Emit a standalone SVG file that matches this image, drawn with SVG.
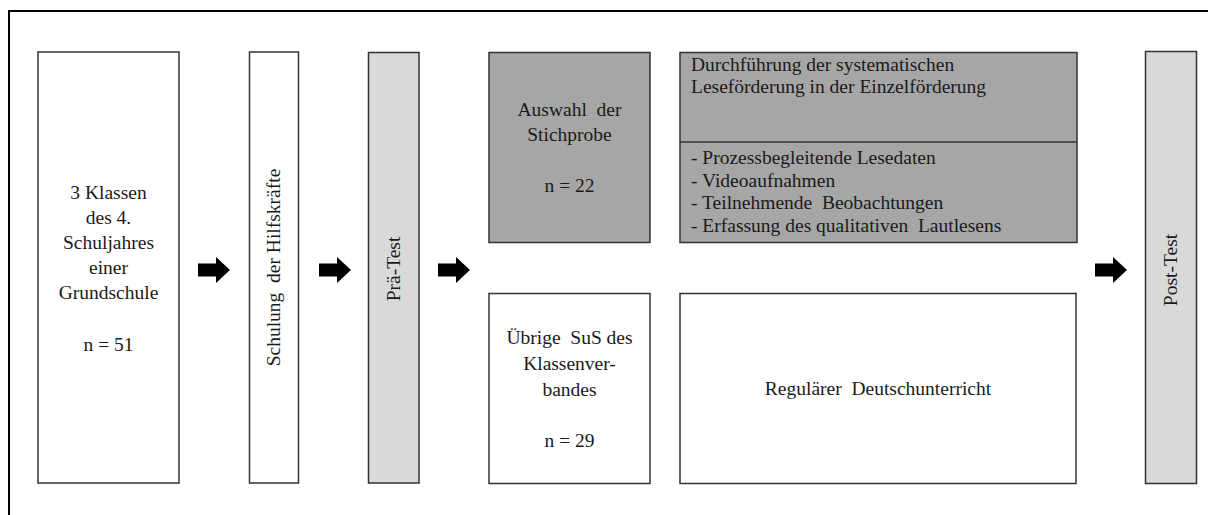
<svg xmlns="http://www.w3.org/2000/svg" width="1208" height="515" viewBox="0 0 1208 515">
  <style>
    .box { stroke: #333; stroke-width: 1.5; }
    .white { fill: #ffffff; }
    .light { fill: #d9d9d9; }
    .dark { fill: #a6a6a6; }
    .t { font-family: 'Liberation Serif', Tinos, 'Times New Roman', Times, 'DejaVu Serif', serif; font-size: 19.5px; fill: #1a1a1a; }
    .c { text-anchor: middle; }
    .arrow { fill: #000; }
  </style>
  <defs>
    <!-- block arrow pointing right, origin at its left end on the axis -->
    <path id="blockArrow" class="arrow" d="M0,-6.5 H18 V-13 L32,0 L18,13 V6.5 H0 Z"/>
  </defs>

  <rect width="1208" height="515" fill="#ffffff"/>
  <!-- outer frame -->
  <rect x="9" y="11" width="1260" height="560" fill="none" stroke="#000" stroke-width="2"/>

  <g class="t" font-family="Liberation Serif, Times New Roman, serif">
  <g id="klassen">
    <rect class="box white" x="38" y="52" width="141" height="431"/>
    <text class="c" x="108.5" y="199">3 Klassen</text>
    <text class="c" x="108.5" y="224">des 4.</text>
    <text class="c" x="108.5" y="249">Schuljahres</text>
    <text class="c" x="108.5" y="274">einer</text>
    <text class="c" x="108.5" y="299">Grundschule</text>
    <text class="c" x="108.5" y="351">n = 51</text>
  </g>

  <g id="schulung">
    <rect class="box white" x="249.5" y="52" width="49" height="431"/>
    <text class="c" xml:space="preserve" transform="translate(279.5,267.5) rotate(-90)">Schulung  der Hilfskräfte</text>
  </g>

  <g id="praetest">
    <rect class="box light" x="368.5" y="52.5" width="50.5" height="430.5"/>
    <text class="c" transform="translate(400,269) rotate(-90)">Prä-Test</text>
  </g>

  <g id="stichprobe">
    <rect class="box dark" x="489" y="52.5" width="161" height="190"/>
    <text class="c" xml:space="preserve" x="569.5" y="116">Auswahl  der</text>
    <text class="c" x="569.5" y="141">Stichprobe</text>
    <text class="c" x="569.5" y="192">n = 22</text>
  </g>

  <g id="foerderung">
    <rect class="box dark" x="680" y="52.5" width="397" height="190"/>
    <line class="box" x1="680" y1="142" x2="1077" y2="142"/>
    <text x="691" y="71">Durchführung der systematischen</text>
    <text x="691" y="93">Leseförderung in der Einzelförderung</text>
    <text x="691" y="164">- Prozessbegleitende Lesedaten</text>
    <text x="691" y="186.5">- Videoaufnahmen</text>
    <text xml:space="preserve" x="691" y="209">- Teilnehmende  Beobachtungen</text>
    <text xml:space="preserve" x="691" y="231.5">- Erfassung des qualitativen  Lautlesens</text>
  </g>

  <g id="uebrige">
    <rect class="box white" x="489" y="293.5" width="161" height="190"/>
    <text class="c" xml:space="preserve" x="569.5" y="344">Übrige  SuS des</text>
    <text class="c" x="569.5" y="370">Klassenver-</text>
    <text class="c" x="569.5" y="396">bandes</text>
    <text class="c" x="569.5" y="447">n = 29</text>
  </g>

  <g id="unterricht">
    <rect class="box white" x="680" y="293.5" width="396" height="190"/>
    <text class="c" xml:space="preserve" x="878" y="395">Regulärer  Deutschunterricht</text>
  </g>

  <g id="posttest">
    <rect class="box light" x="1145.5" y="51.5" width="51" height="432"/>
    <text class="c" transform="translate(1177,270) rotate(-90)">Post-Test</text>
  </g>
  </g>

  <g id="connectors">
    <use href="#blockArrow" x="198" y="270"/>
    <use href="#blockArrow" x="319" y="270"/>
    <use href="#blockArrow" x="438" y="270"/>
    <use href="#blockArrow" x="1095" y="270"/>
  </g>
</svg>
